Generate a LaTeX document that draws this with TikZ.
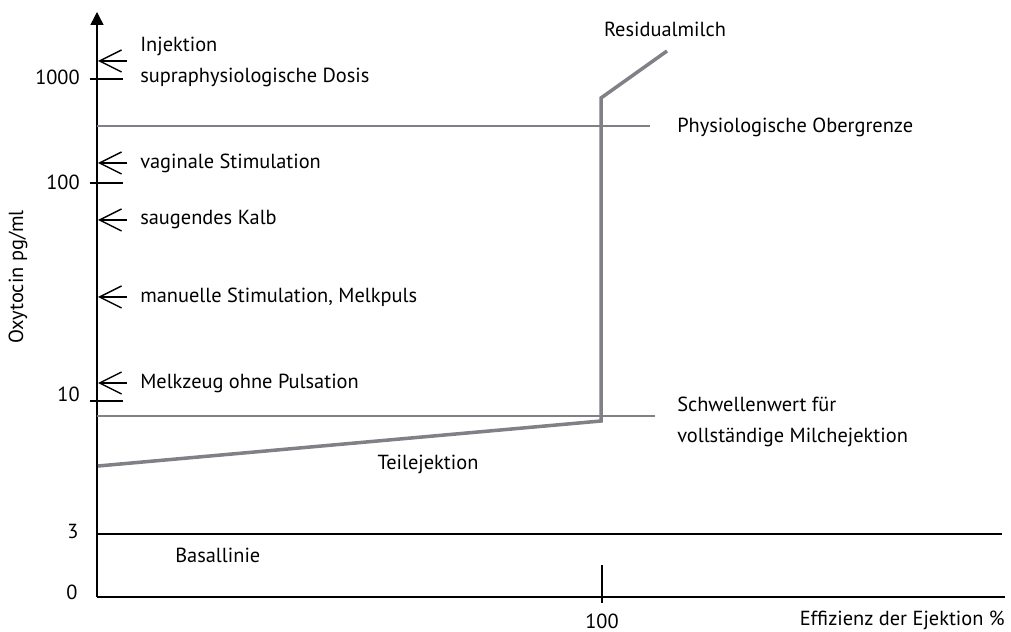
\documentclass[tikz,border=0pt]{standalone}
\usepackage{fontspec}
\setmainfont{PT Sans}
\usetikzlibrary{arrows.meta}
\definecolor{curvegray}{RGB}{128,128,134}

\begin{document}
\begin{tikzpicture}[x=0.25mm, y=-0.25mm, every node/.style={font=\fontsize{14.5}{16}\selectfont, inner sep=0pt}]
    \useasboundingbox (0,0) rectangle (1011,632);

    % Axes
    \coordinate (O) at (97,597);
    \coordinate (ytop) at (97,12);
    \coordinate (xend) at (1005,597);
    \draw[line width=1pt, -{Triangle[length=3.2mm, width=3.2mm]}] (O) -- (ytop);
    \draw[line width=1pt] (O) -- (xend);
    \node[rotate=90] (ylab) at (18,277) {Oxytocin pg/ml};
    \node[anchor=east] (xlab) at (1005,620) {Effizienz der Ejektion \%};

    % Ticks on the y axis
    \foreach \y/\ly/\lab in {79/77/1000, 183/182/100, 401/394/10} {
        \draw[line width=1pt] (90,\y) -- (123,\y);
        \node[anchor=east] (t\lab) at (80,\ly) {\lab};
    }
    \node (t3) at (73,531) {3};
    \node (t0) at (72,592) {0};

    % Tick on the x axis
    \draw[line width=1pt] (602,565) -- (602,603);
    \node (t100x) at (602,621) {100};

    % Basal line
    \draw[line width=1pt] (97,534) -- (1002,534);
    \node[anchor=west] (basal) at (175,555) {Basallinie};

    % Limits
    \draw[curvegray, line width=1.7pt] (97,126) -- (650,126);
    \draw[curvegray, line width=1.7pt] (97,416) -- (655,416);
    \node[anchor=west] (obergrenze) at (677,127) {Physiologische Obergrenze};
    \node[anchor=west, align=left] (schwelle) at (677,422) {Schwellenwert für\\[6pt]vollständige Milchejektion};

    % Ejection curve
    \draw[curvegray, line width=2.5pt, line join=miter] (98,466) -- (601,421) -- (601,98) -- (667,51);
    \node (teil) at (428,464) {Teilejektion};
    \node (resid) at (665,29) {Residualmilch};

    % Stimuli
    \foreach \y/\name/\txt in {163/vag/vaginale Stimulation, 220/kalb/saugendes Kalb,
                              297/man/{manuelle Stimulation, Melkpuls}, 383/melk/Melkzeug ohne Pulsation} {
        \coordinate (a\name) at (127,\y);
        \coordinate (b\name) at (98,\y);
        \draw[line width=1pt, -{Straight Barb[length=5.5mm, width=5.5mm]}] (a\name) -- (b\name);
        \node[anchor=west] (l\name) at (140,\y) {\txt};
    }
    \coordinate (ainj) at (127,61);
    \coordinate (binj) at (98,61);
    \draw[line width=1pt, -{Straight Barb[length=5.5mm, width=5.5mm]}] (ainj) -- (binj);
    \node[anchor=west, align=left] (linj) at (140,62) {Injektion\\[6pt]supraphysiologische Dosis};

\end{tikzpicture}
\end{document}
